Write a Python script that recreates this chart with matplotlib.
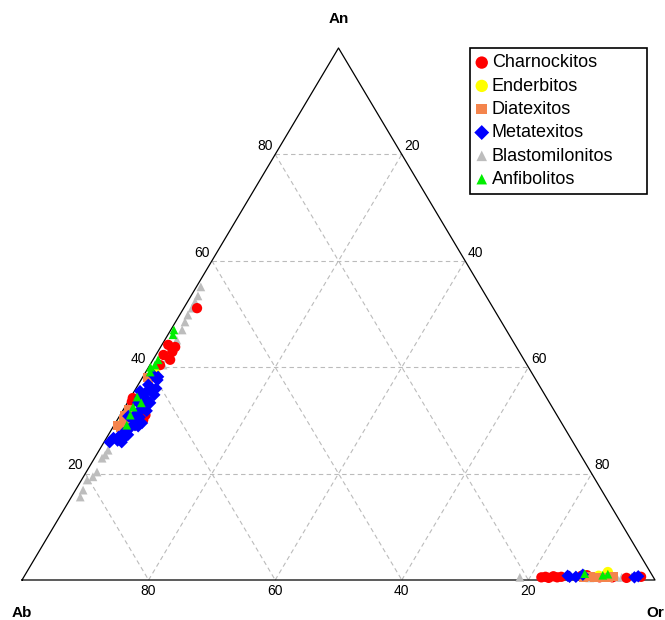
import matplotlib
matplotlib.use('Agg')
import matplotlib.pyplot as plt
import numpy as np

plt.rcParams['font.family'] = ['Liberation Sans', 'DejaVu Sans']

# Data as (An %, Or %) pairs; Ab = 100 - An - Or
charno_an = [51.1, 44.2, 42.9, 42.3, 41.4, 40.4, 43.8, 34.2, 31.0, 30.1, 28.6, 29.1, 33.5,
             0.5, 0.6, 0.4, 0.7, 0.5, 0.6, 0.8, 0.5, 0.4, 0.6, 0.9, 0.5]
charno_or = [2.1, 1.0, 2.3, 1.2, 2.7, 1.6, 2.3, 0.4, 4.0, 4.1, 1.7, 3.4, 0.6,
             81.8, 82.4, 83.0, 83.6, 84.3, 84.9, 88.0, 93.0, 95.3, 97.5, 88.8, 91.0]

ender_an = [29.5, 39.0, 1.5, 0.8]
ender_or = [1.2, 1.5, 91.8, 90.7]

diatex_an = [38.0, 37.5, 31.0, 30.1, 29.5, 28.6, 29.0, 32.0,
             0.5, 0.6, 0.4, 0.5, 0.6, 0.5]
diatex_or = [0.8, 1.3, 0.6, 0.9, 1.5, 1.2, 0.5, 0.8,
             88.5, 89.5, 90.2, 92.4, 93.2, 91.5]

metatex_an = [38.5, 37.6, 36.7, 35.7, 35.2, 34.4, 33.8, 33.3, 32.3, 31.4, 30.6, 30.1,
              29.5, 28.6, 28.2, 27.6, 26.9, 26.7, 25.9, 25.9, 27.3, 33.3, 29.1, 38.2,
              36.0, 34.8, 31.8, 28.9, 27.0, 26.2, 30.8, 32.9, 35.5,
              0.8, 0.6, 1.0, 0.5, 0.7, 0.6]
metatex_or = [1.5, 2.6, 1.6, 2.7, 1.9, 1.5, 2.9, 1.7, 3.0, 2.5, 3.3, 2.5,
              4.2, 2.8, 2.5, 2.2, 1.8, 1.1, 0.9, 2.8, 3.1, 3.6, 3.3, 2.4,
              3.2, 3.5, 3.8, 3.9, 2.9, 2.0, 1.4, 2.3, 0.9,
              85.8, 87.2, 88.1, 96.5, 97.0, 86.2]

blasto_an = [55.1, 53.4, 52.3, 51.1, 49.8, 48.5, 47.0, 45.1, 43.6, 41.7, 40.4,
             24.4, 23.5, 22.9, 20.3, 19.4, 18.8, 16.9, 15.6,
             0.5, 0.4, 0.5, 0.5, 0.6]
blasto_or = [0.7, 1.1, 1.2, 1.3, 1.3, 1.5, 1.8, 1.9, 2.1, 2.1, 2.1,
             1.4, 1.4, 1.2, 1.7, 1.5, 0.9, 1.2, 1.4,
             78.4, 89.5, 93.7, 94.5, 96.0]

anfib_an = [47.0, 46.1, 41.4, 40.0, 40.4, 39.1, 32.5, 34.4, 31.0, 29.1, 33.3,
            1.2, 0.9, 1.1]
anfib_or = [0.5, 0.8, 0.8, 0.3, 0.8, 0.7, 1.3, 1.0, 1.6, 2.0, 2.2,
            88.3, 91.3, 92.0]

ticks = [20, 40, 60, 80]

# triangle height relative to base (as drawn in the original)
H = 532 / 633


def tern(an, orr):
    an = np.asarray(an) / 100.0
    orr = np.asarray(orr) / 100.0
    return orr + an / 2, an * H


fig = plt.figure(figsize=(6.65, 6.2), dpi=100)
ax = fig.add_axes([0, 0, 1, 1])
ax.set_xlim(-22 / 633, 643 / 633)
ax.set_ylim(-40 / 633, 580 / 633)
ax.axis('off')

# grid lines
gkw = dict(color='#bbbbbb', linestyle=(0, (4, 3)), linewidth=0.8, zorder=1)
for k in ticks:
    # An = k
    x, y = tern([k, k], [0, 100 - k])
    ax.plot(x, y, **gkw)
    # Or = k
    x, y = tern([0, 100 - k], [k, k])
    ax.plot(x, y, **gkw)
    # Ab = k
    x, y = tern([100 - k, 0], [0, 100 - k])
    ax.plot(x, y, **gkw)

# triangle outline
x, y = tern([0, 0, 100, 0], [0, 100, 0, 0])
ax.plot(x, y, color='black', linewidth=0.9, zorder=2)

# tick labels
for k in ticks:
    x, y = tern(k, 0)
    ax.text(x - 0.004, y + 0.002, str(k), ha='right', va='bottom', fontsize=10)
    x, y = tern(100 - k, k)
    ax.text(x + 0.004, y + 0.002, str(k), ha='left', va='bottom', fontsize=10)
    x, y = tern(0, 100 - k)
    ax.text(x, y - 0.006, str(k), ha='center', va='top', fontsize=10)

# vertex labels
x, y = tern(100, 0)
ax.text(x, y + 0.046, 'An', ha='center', va='center', fontsize=11, fontweight='bold')
x, y = tern(0, 0)
ax.text(x, y - 0.052, 'Ab', ha='center', va='center', fontsize=11, fontweight='bold')
x, y = tern(0, 100)
ax.text(x, y - 0.052, 'Or', ha='center', va='center', fontsize=11, fontweight='bold')

# data
ax.scatter(*tern(blasto_an, blasto_or), marker='^', s=40, color='#bdbdbd',
           edgecolors='none', zorder=3, label='Blastomilonitos')
ax.scatter(*tern(charno_an, charno_or), marker='o', s=55, color='#ff0000',
           edgecolors='none', zorder=4, label='Charnockitos')
ax.scatter(*tern(ender_an, ender_or), marker='o', s=55, color='#ffff00',
           edgecolors='none', zorder=4, label='Enderbitos')
ax.scatter(*tern(diatex_an, diatex_or), marker='s', s=40, color='#f4844c',
           edgecolors='none', zorder=4, label='Diatexitos')
ax.scatter(*tern(metatex_an, metatex_or), marker='D', s=40, color='#0000ff',
           edgecolors='none', zorder=5, label='Metatexitos')
ax.scatter(*tern(anfib_an, anfib_or), marker='^', s=40, color='#00ee00',
           edgecolors='none', zorder=6, label='Anfibolitos')

handles, labels = ax.get_legend_handles_labels()
order = ['Charnockitos', 'Enderbitos', 'Diatexitos', 'Metatexitos',
         'Blastomilonitos', 'Anfibolitos']
hmap = dict(zip(labels, handles))
leg = ax.legend([hmap[l] for l in order], order, loc='upper left',
                bbox_to_anchor=(470 / 665, 1 - 195 / 620, 177 / 665, 147 / 620),
                mode='expand', fontsize=13, markerscale=1.2,
                frameon=True, fancybox=False, framealpha=1, edgecolor='black',
                borderpad=0.35, labelspacing=0.35, handlelength=0.6,
                handletextpad=0.25, borderaxespad=0)
leg.get_frame().set_linewidth(1.2)

plt.savefig('out.png', dpi=100)
